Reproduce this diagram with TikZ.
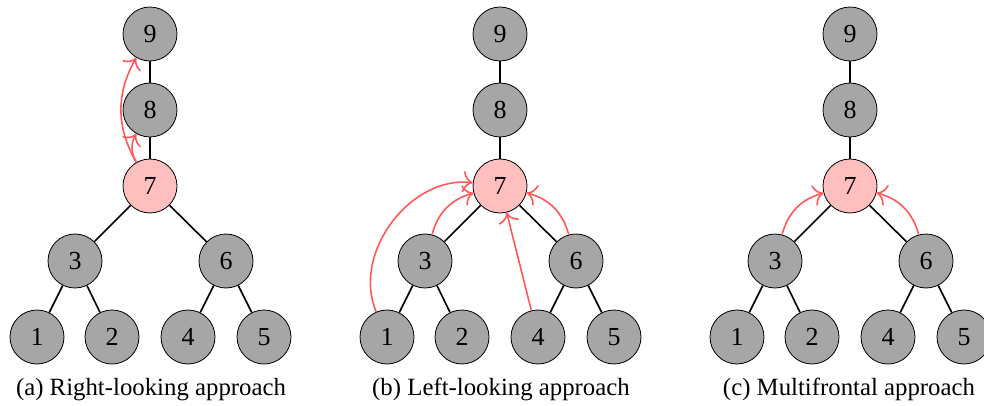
\documentclass[tikz,border=0pt]{standalone}
\usepackage{fontspec}
\setmainfont{Liberation Serif}
\usetikzlibrary{arrows.meta}
\tikzset{
  vertex/.style={circle, draw, thin, fill=black!35, minimum size=27pt, inner sep=0pt,
    font=\fontsize{13pt}{15pt}\selectfont},
  active/.style={vertex, fill=red!25},
  tree/.style={thick},
  update/.style={-{To[scale=1.5]}, thick, red!65},
  caption/.style={anchor=base, font=\fontsize{12.4pt}{15pt}\selectfont},
}
\begin{document}
\begin{tikzpicture}[x=0.5pt,y=-0.5pt]
  \useasboundingbox (0,0) rectangle (984,406);
  % (a) right-looking
  \draw
    (150,34) node[vertex] (a9){9}
    (150,110) node[vertex] (a8){8}
    (150,186) node[active] (a7){7}
    (75,261) node[vertex] (a3){3}
    (226,261) node[vertex] (a6){6}
    (37,337) node[vertex] (a1){1}
    (112,337) node[vertex] (a2){2}
    (188,337) node[vertex] (a4){4}
    (264,337) node[vertex] (a5){5};
  \begin{scope}[tree]
    \draw (a9) to (a8);
    \draw (a8) to (a7);
    \draw (a7) to (a3);
    \draw (a7) to (a6);
    \draw (a3) to (a1);
    \draw (a3) to (a2);
    \draw (a6) to (a4);
    \draw (a6) to (a5);
  \end{scope}
  \begin{scope}[update]
    \draw (a7) to[bend left=30] (a8);
    \draw (a7) to[bend left=30] (a9);
  \end{scope}
  \node[caption] (acap) at (151,395) {(a) Right-looking approach};
  % (b) left-looking
  \draw
    (500,34) node[vertex] (b9){9}
    (500,110) node[vertex] (b8){8}
    (500,186) node[active] (b7){7}
    (425,261) node[vertex] (b3){3}
    (576,261) node[vertex] (b6){6}
    (387,337) node[vertex] (b1){1}
    (462,337) node[vertex] (b2){2}
    (538,337) node[vertex] (b4){4}
    (614,337) node[vertex] (b5){5};
  \begin{scope}[tree]
    \draw (b9) to (b8);
    \draw (b8) to (b7);
    \draw (b7) to (b3);
    \draw (b7) to (b6);
    \draw (b3) to (b1);
    \draw (b3) to (b2);
    \draw (b6) to (b4);
    \draw (b6) to (b5);
  \end{scope}
  \begin{scope}[update]
    \draw (b1) to[bend left=60] (b7);
    \draw (b3) to[bend left=30] (b7);
    \draw (b4) to (b7);
    \draw (b6) to[bend right=30] (b7);
  \end{scope}
  \node[caption] (bcap) at (501,395) {(b) Left-looking approach};
  % (c) multifrontal
  \draw
    (850,34) node[vertex] (c9){9}
    (850,110) node[vertex] (c8){8}
    (850,186) node[active] (c7){7}
    (775,261) node[vertex] (c3){3}
    (926,261) node[vertex] (c6){6}
    (737,337) node[vertex] (c1){1}
    (812,337) node[vertex] (c2){2}
    (888,337) node[vertex] (c4){4}
    (964,337) node[vertex] (c5){5};
  \begin{scope}[tree]
    \draw (c9) to (c8);
    \draw (c8) to (c7);
    \draw (c7) to (c3);
    \draw (c7) to (c6);
    \draw (c3) to (c1);
    \draw (c3) to (c2);
    \draw (c6) to (c4);
    \draw (c6) to (c5);
  \end{scope}
  \begin{scope}[update]
    \draw (c3) to[bend left=30] (c7);
    \draw (c6) to[bend right=30] (c7);
  \end{scope}
  \node[caption] (ccap) at (849,395) {(c) Multifrontal approach};
\end{tikzpicture}
\end{document}
